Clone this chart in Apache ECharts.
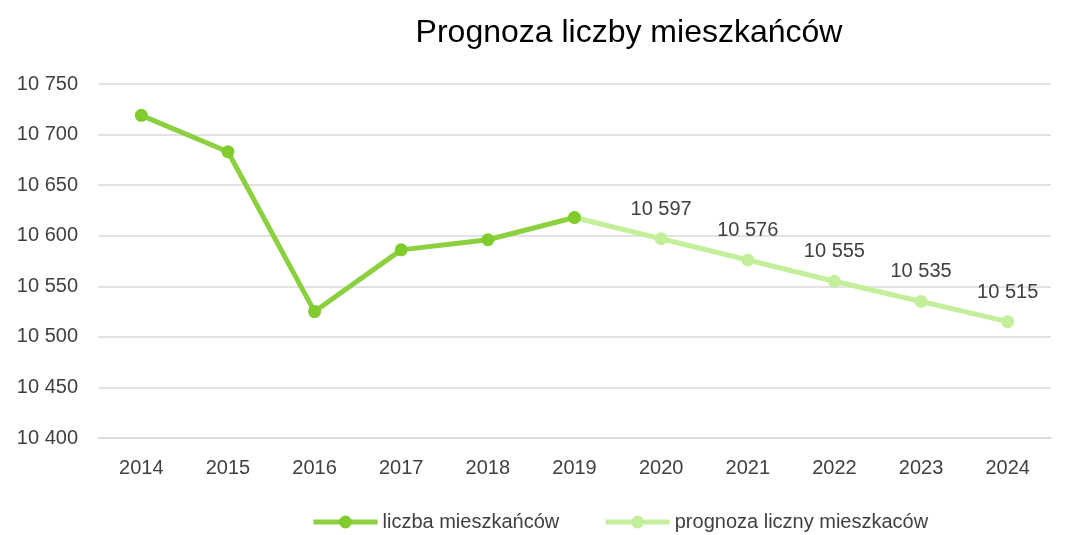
<!DOCTYPE html>
<html>
<head>
<meta charset="utf-8">
<script src="https://cdn.jsdelivr.net/npm/echarts@6/dist/echarts.min.js"></script>
<style>
html,body{margin:0;padding:0;background:#fff;}
#chart{width:1067px;height:535px;}
</style>
</head>
<body>
<div id="chart"></div>
<script>
const years = ['2014','2015','2016','2017','2018','2019','2020','2021','2022','2023','2024'];
const actual = [10719, 10683, 10525, 10586, 10596, 10618, null, null, null, null, null];
const forecast = [null, null, null, null, null, 10618, 10597, 10576, 10555, 10535, 10515];
const forecastLabelFrom = 6;
const titleText = 'Prognoza liczby mieszkańców';
const seriesNames = ['liczba mieszkańców', 'prognoza liczny mieszkaców'];

const fmt = v => String(v).replace(/\B(?=(\d{3})+(?!\d))/g, ' ');
const FONT = 'Liberation Sans';
const FS = 20;

const chart = echarts.init(document.getElementById('chart'));
chart.setOption({
  animation: false,
  backgroundColor: '#fff',
  title: {
    text: titleText,
    left: 624, top: 12,
    textAlign: 'center',
    textStyle: {fontFamily: FONT, fontSize: 32, fontWeight: 'normal', color: '#000'}
  },
  legend: {
    top: 507, left: 306,
    itemWidth: 64, itemHeight: 16, itemGap: 44,
    lineStyle: {width: 5},
    textStyle: {fontFamily: FONT, fontSize: FS, color: '#404040'},
    data: [seriesNames[0], seriesNames[1]]
  },
  grid: {left: 98, right: 16, top: 84, bottom: 97},
  xAxis: {
    type: 'category', data: years, boundaryGap: true,
    axisLine: {show: true, lineStyle: {color: '#d9d9d9', width: 1.5}},
    axisTick: {show: false},
    axisLabel: {fontFamily: FONT, fontSize: FS, color: '#404040', margin: 20}
  },
  yAxis: {
    type: 'value', min: 10400, max: 10750, interval: 50,
    axisLine: {show: false}, axisTick: {show: false},
    splitLine: {lineStyle: {color: '#d9d9d9', width: 1.5}},
    axisLabel: {fontFamily: FONT, fontSize: FS, color: '#404040', margin: 20, formatter: fmt}
  },
  series: [
    {
      name: seriesNames[1], type: 'line', data: forecast, z: 2,
      symbol: 'circle', symbolSize: 13,
      lineStyle: {color: '#c3ef9a', width: 5},
      itemStyle: {color: '#c3ef9a'},
      label: {
        show: true, position: 'top', distance: 13,
        fontFamily: FONT, fontSize: FS, color: '#404040',
        formatter: p => p.dataIndex >= forecastLabelFrom ? fmt(p.value) : ''
      }
    },
    {
      name: seriesNames[0], type: 'line', data: actual, z: 3,
      symbol: 'circle', symbolSize: 13,
      lineStyle: {color: '#8bd03f', width: 5},
      itemStyle: {color: '#80cc2c'}
    }
  ]
});
</script>
</body>
</html>
